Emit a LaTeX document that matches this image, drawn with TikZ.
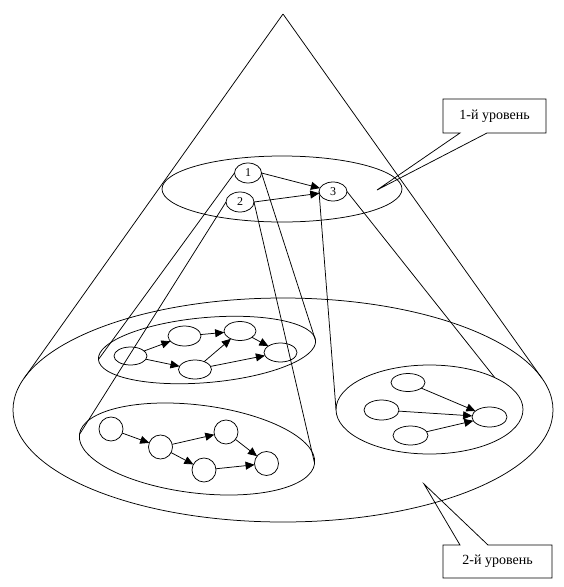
\documentclass[tikz,border=0pt]{standalone}
\usepackage{fontspec}
\setmainfont{Liberation Serif}
\usetikzlibrary{arrows.meta,shapes.geometric}
\begin{document}
\begin{tikzpicture}[x=1pt,y=-1pt,line width=0.75pt,
  ell/.style={draw, ellipse, inner sep=0pt, outer sep=0pt},
  topnode/.style={ell, minimum width=27pt, minimum height=20pt, font=\fontsize{12}{12}\selectfont},
  sm/.style={ell, minimum width=33pt, minimum height=19pt},
  circ/.style={draw, circle, inner sep=0pt, outer sep=0pt, minimum size=24pt},
  arr/.style={-{Triangle[length=9pt,width=8pt]}},
  lab/.style={inner sep=0pt, outer sep=0pt, font=\fontsize{14}{14}\selectfont}
]
\useasboundingbox (0,0) rectangle (564,587);

% big cone
\coordinate (apex) at (283,14);
\node[ell, minimum width=540pt, minimum height=224pt] (big) at (283,410) {};
\draw (apex) -- (big.173);
\draw (apex) -- (big.7);

% top level
\node[ell, minimum width=240pt, minimum height=66pt] (topell) at (282,189) {};
\node[topnode] (n1) at (248,173) {1};
\node[topnode, minimum width=28pt] (n2) at (240,202) {2};
\node[topnode, minimum width=28pt, minimum height=19pt] (n3) at (333,191.5) {3};
\draw[arr] (n1.east) -- (n3);
\draw[arr] (n2.east) -- (n3);

% clusters
\node[ell, rotate=5, minimum width=218pt, minimum height=65pt] (cA) at (207,350) {};
\node[ell, rotate=-7, minimum width=237pt, minimum height=88pt] (cB) at (197,449) {};
\node[ell, minimum width=187pt, minimum height=89pt] (cC) at (429.5,409.5) {};

% cone lines from top nodes
\draw (n1.west) -- (cA.west);
\draw (n1.east) -- (cA.east);
\draw (n2.west) -- (cB.west);
\draw (n2.east) -- (cB.east);
\draw (n3.west) -- (cC.west);
\draw (n3.east) -- (cC.26);

% cluster A
\node[sm, minimum height=18pt] (a1) at (130.5,356) {};
\node[sm, minimum height=20pt] (a2) at (184.5,336) {};
\node[sm, minimum width=32pt] (a3) at (240,331) {};
\node[sm] (a4) at (195,369.5) {};
\node[sm] (a5) at (280.5,352.5) {};
\draw[arr] (a1) -- (a2);
\draw[arr] (a1) -- (a4);
\draw[arr] (a2) -- (a3);
\draw[arr] (a4) -- (a3);
\draw[arr] (a3) -- (a5);
\draw[arr] (a4) -- (a5);

% cluster B
\node[circ] (b1) at (111,429) {};
\node[circ] (b2) at (160.5,447) {};
\node[circ] (b3) at (226,432) {};
\node[circ] (b4) at (204,470) {};
\node[circ] (b5) at (266.5,463.5) {};
\draw[arr] (b1) -- (b2);
\draw[arr] (b2) -- (b3);
\draw[arr] (b2) -- (b4);
\draw[arr] (b3) -- (b5);
\draw[arr] (b4) -- (b5);

% cluster C
\node[sm, minimum width=34pt, minimum height=18pt] (c1) at (408,382.5) {};
\node[sm, minimum width=35pt, minimum height=20pt] (c2) at (381.5,410) {};
\node[sm, minimum width=35pt] (c3) at (410.5,435.5) {};
\node[sm, minimum width=35pt, minimum height=20pt] (c4) at (489.5,417) {};
\draw[arr] (c1) -- (c4);
\draw[arr] (c2) -- (c4);
\draw[arr] (c3) -- (c4);

% callout 1
\node[lab, minimum width=103pt, minimum height=34pt] (L1) at (494.5,116) {1-й уровень};
\coordinate (t1) at (377,190);
\draw (L1.south west) -- (L1.north west) -- (L1.north east) -- (L1.south east)
  -- ([xshift=-59pt]L1.south east) -- (t1) -- ([xshift=17pt]L1.south west) -- cycle;

% callout 2
\node[lab, minimum width=109pt, minimum height=33pt] (L2) at (497.5,561.5) {2-й уровень};
\coordinate (t2) at (424,484);
\draw (L2.north west) -- ([xshift=17pt]L2.north west) -- (t2) -- ([xshift=45pt]L2.north west)
  -- (L2.north east) -- (L2.south east) -- (L2.south west) -- cycle;
\end{tikzpicture}
\end{document}
